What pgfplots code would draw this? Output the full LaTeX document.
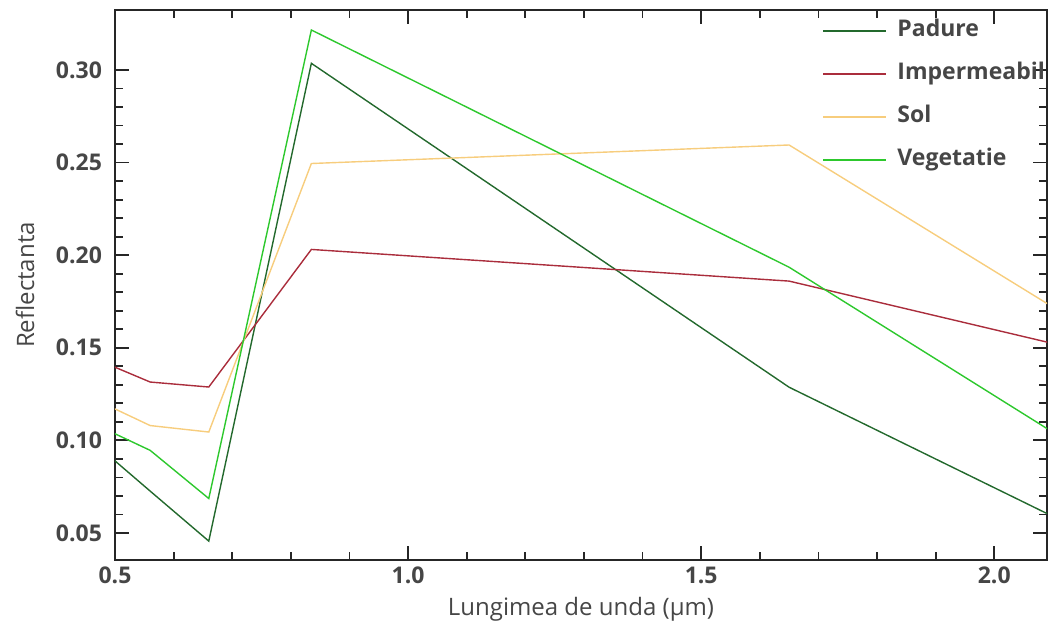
\documentclass[border=0pt]{standalone}
\usepackage{fontspec}
\setmainfont{Open Sans}
\usepackage{pgfplots}
\pgfplotsset{compat=1.18}
\definecolor{padure}{RGB}{35,105,45}
\definecolor{imper}{RGB}{170,45,60}
\definecolor{sol}{RGB}{247,205,125}
\definecolor{veg}{RGB}{45,200,45}
\definecolor{txt}{RGB}{70,70,70}
\begin{document}
\begin{tikzpicture}
\begin{axis}[
  scale only axis, width=466pt, height=275pt,
  xmin=0.5, xmax=2.09, ymin=0.0354, ymax=0.3324,
  xtick={0.5,1.0,1.5,2.0}, minor x tick num=4,
  ytick={0.05,0.10,0.15,0.20,0.25,0.30}, minor y tick num=4,
  tick pos=both, tick align=inside,
  major tick length=7pt, minor tick length=4pt,
  every tick/.style={black!85, line width=0.9pt},
  /pgf/number format/assume math mode=true,
  xticklabel style={/pgf/number format/.cd, fixed, fixed zerofill, precision=1},
  yticklabel style={/pgf/number format/.cd, fixed, fixed zerofill, precision=2, /tikz/xshift=-3pt},
  ticklabel style={font=\bfseries\fontsize{11.5}{13}\selectfont, text=txt},
  xlabel={Lungimea de unda (µm)}, ylabel={Reflectanta},
  label style={font=\fontsize{12}{14}\selectfont, text=txt},
  xlabel style={at={(axis description cs:0.5,-0.089)}, anchor=center},
  ylabel style={at={(axis description cs:-0.0966,0.5)}, anchor=center},
  axis line style={line width=0.9pt, black!85},
  legend style={at={(axis description cs:0.7586,0.9895)}, anchor=north west,
    draw=none, fill=none, inner sep=0pt, row sep=7pt, column sep=3pt, overlay,
    font=\bfseries\fontsize{11.5}{13}\selectfont, text=txt,
    nodes={text height=8pt, text depth=2.5pt, inner sep=2pt}},
  legend cell align=left,
  legend image code/.code={\draw[#1, line width=1pt] (0pt,0pt) -- (31.5pt,0pt);},
  every axis plot/.append style={line width=0.7pt},
]
\addplot[padure] coordinates {(0.485,0.093) (0.56,0.0726) (0.66,0.0456) (0.835,0.3036) (1.65,0.1287) (2.215,0.0411)};
\addlegendentry{Padure}
\addplot[imper] coordinates {(0.485,0.1415) (0.56,0.1315) (0.66,0.1288) (0.835,0.2031) (1.65,0.186) (2.215,0.1437)};
\addlegendentry{Impermeabil}
\addplot[sol] coordinates {(0.485,0.1192) (0.56,0.108) (0.66,0.1045) (0.835,0.2495) (1.65,0.2595) (2.215,0.1496)};
\addlegendentry{Sol}
\addplot[veg] coordinates {(0.485,0.1058) (0.56,0.0946) (0.66,0.0686) (0.835,0.3216) (1.65,0.1935) (2.215,0.0816)};
\addlegendentry{Vegetatie}
\end{axis}
\pgfresetboundingbox
\path[use as bounding box] ([xshift=-57.5pt,yshift=-32pt]current axis.south west) rectangle ([xshift=0.5pt,yshift=5pt]current axis.north east);
\end{tikzpicture}
\end{document}
